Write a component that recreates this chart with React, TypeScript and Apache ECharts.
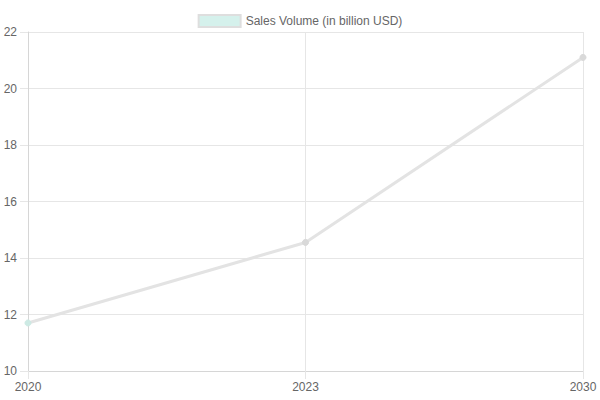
import React, { useEffect, useRef } from "react";
import * as echarts from "echarts";

const years = ["2020", "2023", "2030"];
const salesVolume = [11.7, 14.55, 21.1];
const pointColors = ["#cdeae4", "#d9d9d9", "#d9d9d9"];
const seriesName = "Sales Volume (in billion USD)";

export default function App() {
  const ref = useRef<HTMLDivElement>(null);
  useEffect(() => {
    if (!ref.current) return;
    const chart = echarts.init(ref.current, undefined, { renderer: "svg" });
    const font = "Liberation Sans, Arial, Helvetica, sans-serif";
    chart.setOption({
      animation: false,
      textStyle: { fontFamily: font },
      legend: {
        top: 9,
        left: "center",
        itemWidth: 42,
        itemHeight: 12,
        itemGap: 10,
        textStyle: { color: "#666", fontSize: 12, fontFamily: font },
        data: [
          {
            name: seriesName,
            icon: "rect",
            itemStyle: { color: "#d5f1ec", borderColor: "#dedede", borderWidth: 2 },
          },
        ],
      },
      grid: { left: 28, right: 17, top: 32, bottom: 29, containLabel: false },
      xAxis: {
        type: "category",
        boundaryGap: false,
        data: years,
        axisLine: { show: true, lineStyle: { color: "#d6d6d6" } },
        axisTick: { show: true, length: 8, lineStyle: { color: "#e6e6e6" } },
        splitLine: { show: true, lineStyle: { color: "#e6e6e6" } },
        axisLabel: { color: "#666", fontSize: 12, margin: 10, fontFamily: font },
      },
      yAxis: {
        type: "value",
        min: 10,
        max: 22,
        interval: 2,
        axisLine: { show: true, lineStyle: { color: "#d6d6d6" } },
        axisTick: { show: true, length: 8, lineStyle: { color: "#e6e6e6" } },
        splitLine: { show: true, lineStyle: { color: "#e6e6e6" } },
        axisLabel: { color: "#666", fontSize: 12, margin: 11, fontFamily: font },
      },
      series: [
        {
          name: seriesName,
          type: "line",
          data: salesVolume.map((v, i) => ({
            value: v,
            itemStyle: { color: pointColors[i], borderColor: pointColors[i] },
          })),
          symbol: "circle",
          symbolSize: 6,
          showSymbol: true,
          lineStyle: { color: "#e3e3e3", width: 3 },
          itemStyle: { color: "#d9d9d9" },
        },
      ],
    });
    return () => chart.dispose();
  }, []);
  return <div ref={ref} style={{ width: 600, height: 400, position: "absolute", left: 0, top: 0 }} />;
}
